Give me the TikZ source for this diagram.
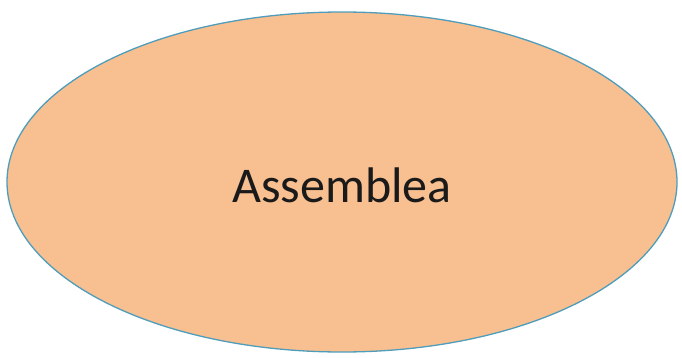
\documentclass[tikz,border=0pt]{standalone}
\usepackage{fontspec}
\setmainfont{Carlito}
\definecolor{fillor}{HTML}{F8BF90}
\definecolor{edgeb}{HTML}{4F9DBA}
\definecolor{txt}{HTML}{1A1A1A}
\begin{document}
\begin{tikzpicture}[x=1pt,y=1pt]
\useasboundingbox (0,0) rectangle (682,357);
\tikzset{blob/.style={fill=fillor,draw=edgeb,line width=1.3pt}}
\draw[blob] (342,175) ellipse [x radius=335, y radius=170];
\node[text=txt,font=\fontsize{50}{56}\selectfont] (a) at (342,172) {Assemblea};
\end{tikzpicture}
\end{document}
